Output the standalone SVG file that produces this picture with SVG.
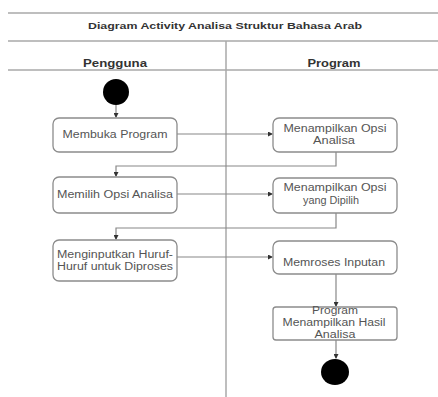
<svg xmlns="http://www.w3.org/2000/svg" width="438" height="397" viewBox="0 0 438 397">
<style>
.lane{stroke:#a8a8a8;stroke-width:1.5;fill:none}
.box{fill:#fff;stroke:#8c8c8c;stroke-width:1.3}
.t{font-family:"Liberation Sans",Arial,sans-serif;font-size:10px;fill:#555;text-anchor:middle}
.h{font-family:"Liberation Sans",Arial,sans-serif;font-weight:bold;fill:#333;text-anchor:middle}
.c{stroke:#888;stroke-width:1.2;fill:none;marker-end:url(#a)}
</style>
<defs>
<marker id="a" markerWidth="5" markerHeight="5" refX="4" refY="2.5" orient="auto" markerUnits="userSpaceOnUse">
<path d="M0,0 L5,2.5 L0,5 z" fill="#333"/>
</marker>
</defs>
<rect width="438" height="397" fill="#fff"/>
<g id="swimlanes">
<line class="lane" x1="8" y1="13" x2="438" y2="13" stroke-width="2"/>
<line class="lane" x1="8" y1="41" x2="438" y2="41"/>
<line class="lane" x1="8" y1="70" x2="438" y2="70" stroke="#888"/>
<line class="lane" x1="226" y1="41" x2="226" y2="397"/>
<text class="h" x="225" y="29" font-size="9" textLength="274" lengthAdjust="spacingAndGlyphs">Diagram Activity Analisa Struktur Bahasa Arab</text>
<text class="h" x="115" y="67" font-size="10" textLength="64" lengthAdjust="spacingAndGlyphs">Pengguna</text>
<text class="h" x="334" y="67" font-size="10" textLength="53" lengthAdjust="spacingAndGlyphs">Program</text>
</g>
<g id="connectors">
<line class="c" x1="116" y1="105" x2="116" y2="117"/>
<line class="c" x1="177" y1="134" x2="272" y2="134"/>
<polyline class="c" points="336,152 336,166 116,166 116,176"/>
<line class="c" x1="177" y1="194" x2="272" y2="194"/>
<polyline class="c" points="336,213 336,228 116,228 116,239"/>
<line class="c" x1="177" y1="257" x2="272" y2="257"/>
<line class="c" x1="336" y1="274" x2="336" y2="306"/>
<line class="c" x1="336" y1="340" x2="336" y2="358"/>
</g>
<g id="start"><circle cx="116" cy="92" r="13" fill="#000"/></g>
<g id="n1"><rect class="box" x="53" y="118" width="124" height="34" rx="6"/><text class="t" x="115" y="138" textLength="105" lengthAdjust="spacingAndGlyphs">Membuka Program</text></g>
<g id="n2"><rect class="box" x="273" y="118" width="124" height="34" rx="6"/><text class="t" x="335" y="132" textLength="103" lengthAdjust="spacingAndGlyphs">Menampilkan Opsi</text><text class="t" x="334" y="144" textLength="42" lengthAdjust="spacingAndGlyphs">Analisa</text></g>
<g id="n3"><rect class="box" x="53" y="177" width="124" height="36" rx="6"/><text class="t" x="115" y="198" textLength="116" lengthAdjust="spacingAndGlyphs">Memilih Opsi Analisa</text></g>
<g id="n4"><rect class="box" x="273" y="178" width="124" height="35" rx="6"/><text class="t" x="335" y="191" textLength="103" lengthAdjust="spacingAndGlyphs">Menampilkan Opsi</text><text class="t" x="331" y="204" textLength="56" lengthAdjust="spacingAndGlyphs">yang Dipilih</text></g>
<g id="n5"><rect class="box" x="53" y="240" width="124" height="41" rx="6"/><text class="t" x="115" y="258" textLength="116" lengthAdjust="spacingAndGlyphs">Menginputkan Huruf-</text><text class="t" x="115" y="270" textLength="116" lengthAdjust="spacingAndGlyphs">Huruf untuk Diproses</text></g>
<g id="n6"><rect class="box" x="273" y="241" width="124" height="33" rx="6"/><text class="t" x="334" y="266" textLength="102" lengthAdjust="spacingAndGlyphs">Memroses Inputan</text></g>
<g id="n7"><rect class="box" x="273" y="307" width="124" height="33" rx="3"/><text class="t" x="335" y="314" textLength="46" lengthAdjust="spacingAndGlyphs">Program</text><text class="t" x="334" y="326" textLength="103" lengthAdjust="spacingAndGlyphs">Menampilkan Hasil</text><text class="t" x="335" y="338" textLength="41" lengthAdjust="spacingAndGlyphs">Analisa</text></g>
<g id="end"><ellipse cx="335" cy="372" rx="14" ry="13" fill="#000"/></g>
</svg>
